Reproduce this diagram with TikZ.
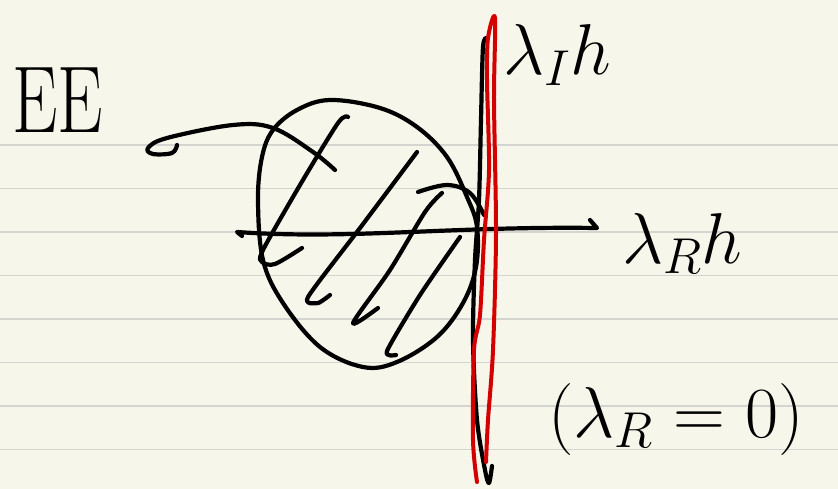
\RequirePackage{fix-cm}
\documentclass[tikz,border=0pt]{standalone}
\usetikzlibrary{calc}
\definecolor{paper}{HTML}{F7F6EA}
\definecolor{rule}{HTML}{D4D4D0}
\definecolor{pen}{HTML}{000000}
\definecolor{redpen}{HTML}{D40000}
\tikzset{
  ink/.style={draw=pen, line width=4.2pt, line cap=round, line join=round},
  redink/.style={draw=redpen, line width=4pt, line cap=round, line join=round},
  ruled/.style={draw=rule, line width=1.8pt},
  hand/.style={inner sep=0pt, font=\fontsize{72}{80}\selectfont, text=pen}
}
\begin{document}
\begin{tikzpicture}[x=1pt,y=-1pt]
  % paper
  \fill[paper] (0,0) rectangle (838,489);
  \useasboundingbox (0,0) rectangle (838,489);
  \foreach \yy in {145,188.5,232,275.5,319,362.5,406,449.5}
    \draw[ruled] (0,\yy) -- (838,\yy);

  % blob (region)
  \draw[ink] plot[smooth cycle, tension=0.6] coordinates {
    (330,100) (380,108) (417,127) (447,157) (467,197) (477,227) (476,267)
    (463,303) (437,337) (397,362) (363,367) (320,347) (283,303) (263,260)
    (258,200) (262,157) (273,130) (297,110)};

  % hatching
  \draw[ink] plot[smooth, tension=0.5] coordinates {(348,117) (338,123) (300,185) (263,250) (262,262) (275,264) (302,248)};
  \draw[ink] plot[smooth, tension=0.4] coordinates {(417,152) (360,228) (308,297) (318,303) (330,295)};
  \draw[ink] plot[smooth, tension=0.5] coordinates {(442,193) (425,212) (390,270) (353,323) (378,308)};
  \draw[ink] plot[smooth, tension=0.4] coordinates {(460,237) (420,295) (387,351) (396,355)};
  \draw[ink] plot[smooth, tension=0.6] coordinates {(418,192) (447,185) (470,193) (484,215)};

  % EE pointer curve
  \draw[ink] plot[smooth, tension=0.6] coordinates {
    (177,145) (172,153) (153,154) (148,148) (167,138) (233,125) (273,128) (313,152) (335,170)};

  % horizontal axis
  \coordinate (hstart) at (237,232);
  \coordinate (hend) at (597,228);
  \draw[ink] (242,236) -- (hstart) .. controls (350,240) and (450,226) .. (hend) -- (590,220);

  % vertical black axis
  \draw[ink] plot[smooth, tension=0.5] coordinates {
    (487,38) (483,47) (481,120) (479,200) (475,260) (473,340) (477,420) (485,470) (489,483) (492,466)};

  % red vertical loop
  \draw[redink] plot[smooth, tension=0.5] coordinates {
    (477,482) (473,440) (474,350) (480,315) (484,240) (489,170) (487,80) (488,38) (495,18)
    (494,100) (496,233) (493,350) (488,420) (486,462)};

  % labels
  \node[hand, anchor=base west, font=\fontsize{95}{100}\selectfont] (ee) at (12,133) {\scalebox{0.76}[1]{EE}};
  \node[hand, anchor=base west] (li) at (503,75) {$\lambda_I h$};
  \node[hand, anchor=base west] (lr) at (622,263) {$\lambda_R h$};
  \node[hand, anchor=base west] (cond) at (548,437) {$\bigl(\lambda_R = 0\bigr)$};
\end{tikzpicture}
\end{document}
